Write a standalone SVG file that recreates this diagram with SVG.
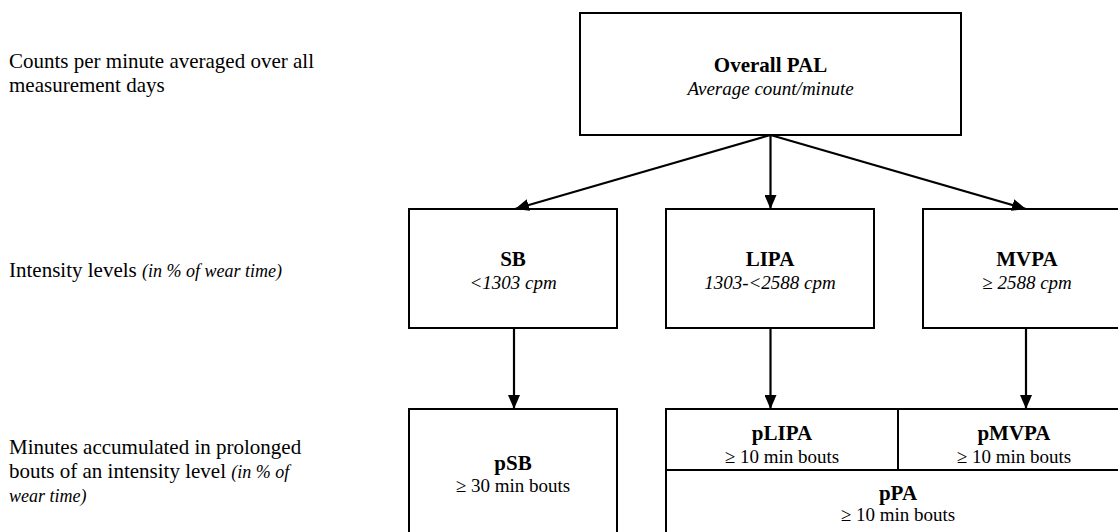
<svg xmlns="http://www.w3.org/2000/svg" width="1118" height="532" viewBox="0 0 1118 532">
<style>
  .box { fill: #ffffff; stroke: #000; stroke-width: 2; }
  .div { fill: none; stroke: #000; stroke-width: 2; }
  .title { font-family: "Liberation Serif", "Times New Roman", serif; font-weight: bold; font-size: 21px; fill: #000; text-anchor: middle; }
  .subi { font-family: "Liberation Serif", "Times New Roman", serif; font-style: italic; font-size: 19px; fill: #000; text-anchor: middle; }
  .sub { font-family: "Liberation Serif", "Times New Roman", serif; font-size: 19px; fill: #000; text-anchor: middle; }
  .side { font-family: "Liberation Serif", "Times New Roman", serif; font-size: 21px; fill: #000; }
  .sidei { font-style: italic; font-size: 18px; }
  .conn { fill: none; stroke: #000; stroke-width: 2.2; marker-end: url(#arrow); }
</style>
<defs>
  <marker id="arrow" markerWidth="14" markerHeight="12" refX="14" refY="6" orient="auto" markerUnits="userSpaceOnUse">
    <path d="M0,0 L14,6 L0,12 Z" fill="#000"/>
  </marker>
</defs>
<rect width="1118" height="532" fill="#ffffff"/>

<g id="side-labels">
  <text class="side" x="9" y="68">Counts per minute averaged over all</text>
  <text class="side" x="9" y="92">measurement days</text>
  <text class="side" x="9" y="277">Intensity levels <tspan class="sidei">(in % of wear time)</tspan></text>
  <text class="side" x="9" y="454">Minutes accumulated in prolonged</text>
  <text class="side" x="9" y="478">bouts of an intensity level <tspan class="sidei">(in % of</tspan></text>
  <text class="side" x="9" y="502"><tspan class="sidei">wear time)</tspan></text>
</g>

<g id="node-overall">
  <rect class="box" x="580" y="13" width="381" height="122"/>
  <text class="title" x="770.5" y="72">Overall PAL</text>
  <text class="subi" x="770.5" y="95">Average count/minute</text>
</g>

<g id="node-sb">
  <rect class="box" x="409" y="209" width="208" height="119"/>
  <text class="title" x="513" y="266">SB</text>
  <text class="subi" x="513" y="289">&lt;1303 cpm</text>
</g>

<g id="node-lipa">
  <rect class="box" x="666" y="209" width="208" height="119"/>
  <text class="title" x="770" y="266">LIPA</text>
  <text class="subi" x="770" y="289">1303-&lt;2588 cpm</text>
</g>

<g id="node-mvpa">
  <rect class="box" x="923" y="209" width="208" height="119"/>
  <text class="title" x="1027" y="266">MVPA</text>
  <text class="subi" x="1027" y="289">≥ 2588 cpm</text>
</g>

<g id="node-psb">
  <rect class="box" x="409" y="409" width="208" height="127"/>
  <text class="title" x="513" y="470">pSB</text>
  <text class="sub" x="513" y="492">≥ 30 min bouts</text>
</g>

<g id="node-ppa">
  <rect class="box" x="666" y="409" width="465" height="127"/>
  <line class="div" x1="666" y1="470" x2="1131" y2="470"/>
  <text class="title" x="898" y="500">pPA</text>
  <text class="sub" x="898" y="521">≥ 10 min bouts</text>
</g>

<g id="node-plipa">
  <line class="div" x1="898" y1="409" x2="898" y2="470"/>
  <text class="title" x="782" y="440">pLIPA</text>
  <text class="sub" x="782" y="463">≥ 10 min bouts</text>
</g>

<g id="node-pmvpa">
  <text class="title" x="1014" y="440">pMVPA</text>
  <text class="sub" x="1014" y="463">≥ 10 min bouts</text>
</g>

<g id="connectors">
  <line class="conn" x1="770.5" y1="135" x2="515" y2="209"/>
  <line class="conn" x1="770.5" y1="135" x2="770.5" y2="209"/>
  <line class="conn" x1="770.5" y1="135" x2="1026" y2="209"/>
  <line class="conn" x1="514" y1="328" x2="514" y2="409"/>
  <line class="conn" x1="770.5" y1="328" x2="770.5" y2="409"/>
  <line class="conn" x1="1026" y1="328" x2="1026" y2="409"/>
</g>
</svg>
